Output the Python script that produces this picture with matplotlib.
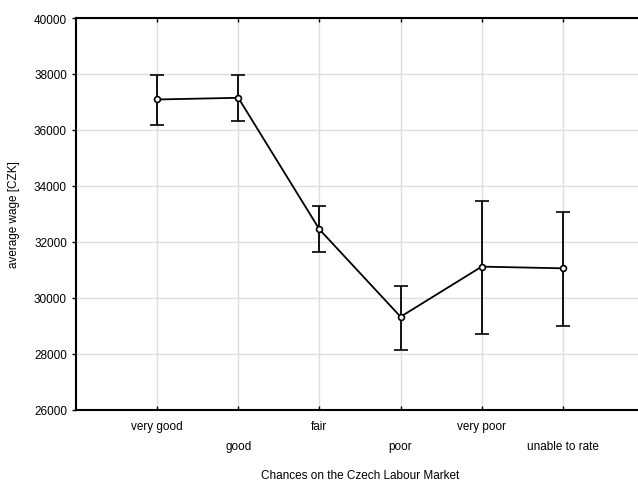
import matplotlib.pyplot as plt
import numpy as np

# chances on the labour market vs mean wage with error bars
categories = ["very good", "good", "fair", "poor", "very poor", "unable to rate"]
mean_wage = [37090, 37150, 32450, 29330, 31120, 31060]
upper = [37975, 37965, 33275, 30420, 33475, 33085]
lower = [36190, 36330, 31630, 28145, 28715, 29010]

plt.rcParams['font.family'] = ['Liberation Sans', 'DejaVu Sans']

fig = plt.figure(figsize=(6.38, 4.81), dpi=100)
ax = fig.add_axes([76 / 638, 1 - 411 / 481, 568 / 638, 392 / 481])

x = np.arange(1, len(categories) + 1)
mean = np.array(mean_wage)
yerr = [mean - np.array(lower), np.array(upper) - mean]

ax.errorbar(x, mean, yerr=yerr, color='black', lw=1.3, elinewidth=1.3,
            capsize=5, capthick=1.3, marker='o', markersize=4.2,
            markerfacecolor='white', markeredgecolor='black', markeredgewidth=1.2,
            zorder=3)

ax.set_xlim(0, 7)
ax.set_ylim(26000, 40000)
ax.set_yticks(np.arange(26000, 40001, 2000))
ax.set_xticks(x)
labels = [c if i % 2 == 0 else "\n" + c for i, c in enumerate(categories)]
ax.set_xticklabels(labels, fontsize=8.5, linespacing=1.8)
ax.tick_params(axis='y', labelsize=8.5, direction='out', length=3, width=1)
ax.tick_params(axis='x', direction='in', length=3, width=1, top=True, pad=7.5)

ax.grid(True, color='#dddddd', lw=1)
ax.set_axisbelow(True)
for s in ['left', 'bottom', 'top']:
    ax.spines[s].set_linewidth(1.5)
ax.spines['right'].set_visible(False)

ax.set_ylabel("average wage [CZK]", fontsize=8.5, labelpad=10)
ax.set_xlabel("Chances on the Czech Labour Market", fontsize=8.5, labelpad=12.5)

fig.savefig("out.png", dpi=100)
